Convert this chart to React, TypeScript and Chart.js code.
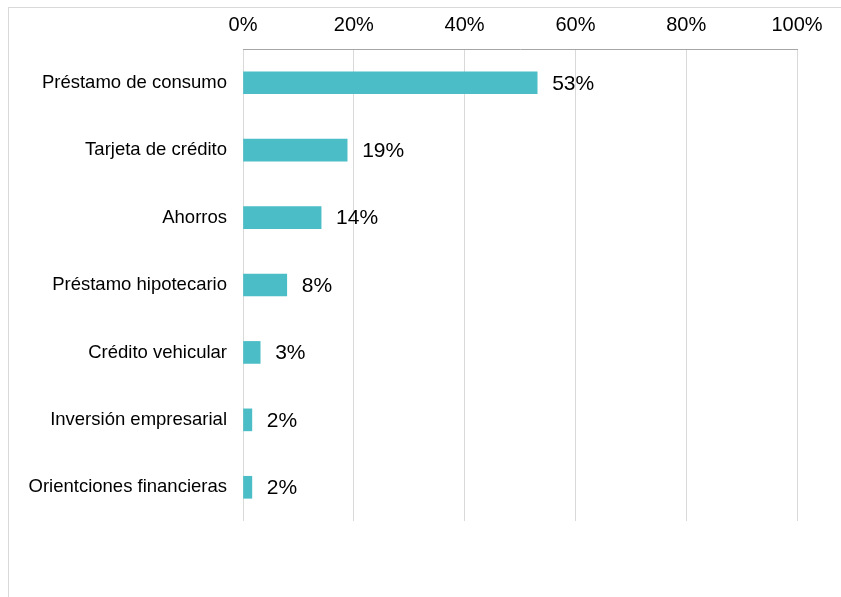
import React, { useEffect, useRef } from "react";
import { Chart, registerables } from "chart.js";

Chart.register(...registerables);

const categories = [
  "Préstamo de consumo",
  "Tarjeta de crédito",
  "Ahorros",
  "Préstamo hipotecario",
  "Crédito vehicular",
  "Inversión empresarial",
  "Orientciones financieras",
];
const values = [53.1, 18.8, 14.1, 7.9, 3.1, 1.6, 1.6];
const tickValues = [0, 20, 40, 60, 80, 100];

const FONT = "'Liberation Sans', Arial, sans-serif";
const BAR_COLOR = "#4BBDC6";

const dataLabelPlugin = {
  id: "dataLabels",
  afterDatasetsDraw(chart: any) {
    const ctx = chart.ctx;
    const meta = chart.getDatasetMeta(0);
    ctx.save();
    ctx.font = `21px ${FONT}`;
    ctx.fillStyle = "#000";
    ctx.textAlign = "left";
    ctx.textBaseline = "middle";
    meta.data.forEach((bar: any, i: number) => {
      ctx.fillText(`${Math.round(values[i])}%`, bar.x + 15, bar.y + 1);
    });
    ctx.restore();
  },
};

export default function App() {
  const ref = useRef<HTMLCanvasElement | null>(null);
  useEffect(() => {
    if (!ref.current) return;
    const chart = new Chart(ref.current, {
      type: "bar",
      data: {
        labels: categories,
        datasets: [
          {
            data: values,
            backgroundColor: BAR_COLOR,
            barThickness: 22,
          },
        ],
      },
      options: {
        indexAxis: "y",
        responsive: false,
        animation: false,
        devicePixelRatio: 1,
        layout: { padding: { left: 0, right: 44, top: 0, bottom: 76 } },
        plugins: { legend: { display: false }, tooltip: { enabled: false } },
        scales: {
          x: {
            position: "top",
            min: 0,
            max: 100,
            afterBuildTicks: (scale: any) => {
              scale.ticks = tickValues.map((v) => ({ value: v }));
            },
            afterFit: (scale: any) => {
              scale.height = 49;
            },
            ticks: {
              padding: 12,
              color: "#000",
              font: { family: FONT, size: 20 },
              callback: (v: any) => `${v}%`,
            },
            grid: { color: "#d9d9d9", lineWidth: 1, drawTicks: false },
            border: { display: true, color: "#a6a6a6", width: 1 },
          },
          y: {
            afterFit: (scale: any) => {
              scale.width = 243;
            },
            ticks: {
              padding: 16,
              color: "#000",
              font: { family: FONT, size: 18.5 },
            },
            grid: { display: false, drawTicks: false },
            border: { display: false },
          },
        },
      },
      plugins: [dataLabelPlugin],
    });
    return () => chart.destroy();
  }, []);

  return (
    <div style={{ position: "fixed", left: 0, top: 0, width: 841, height: 597, background: "#fff" }}>
      <div
        style={{
          position: "absolute",
          left: 8,
          top: 7,
          width: 900,
          height: 700,
          borderTop: "1px solid #d9d9d9",
          borderLeft: "1px solid #d9d9d9",
        }}
      />
      <canvas
        ref={ref}
        width={841}
        height={597}
        style={{ position: "absolute", left: 0, top: 0, width: 841, height: 597 }}
      />
    </div>
  );
}
